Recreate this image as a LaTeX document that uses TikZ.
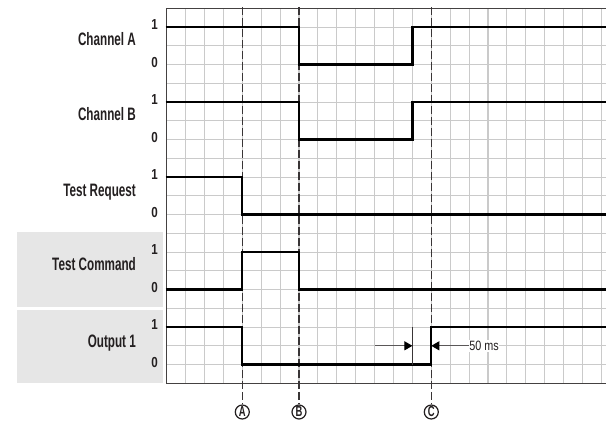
\documentclass[tikz,border=0pt]{standalone}
\usepackage{fontspec}
\setmainfont{Liberation Sans}
\newfontfamily\lblfont{Liberation Sans Bold}[FakeStretch=0.65]
\newfontfamily\digfont{Liberation Sans Bold}[FakeStretch=0.8]
\newfontfamily\msfont{Liberation Sans}[FakeStretch=0.8]
\usetikzlibrary{arrows.meta}
\definecolor{ink}{RGB}{35,31,32}
\definecolor{gridc}{RGB}{202,202,202}
\definecolor{panel}{RGB}{230,230,230}
\begin{document}
\begin{tikzpicture}[x=18.9pt,y=-18.75pt,
  gridline/.style={draw=gridc,line width=1.1pt},
  frameline/.style={draw=ink!85,line width=1.3pt},
  sigline/.style={draw=black,line width=2.2pt,line join=miter},
  markline/.style={draw=ink!90,dash pattern=on 8pt off 3pt,line width=1.2pt},
  signame/.style={anchor=base east,inner sep=0pt,text=ink,font=\lblfont\fontsize{18}{20}\selectfont},
  lvl/.style={inner sep=0pt,text=ink,font=\digfont\fontsize{14.5}{16}\selectfont},
  evmark/.style={circle,draw=ink,line width=1.2pt,minimum size=14pt,inner sep=0pt,text=ink,font=\lblfont\fontsize{14.5}{16}\selectfont},
  paneltile/.style={fill=panel,draw=none},
  dimarrow/.style={draw=ink!75,line width=1pt,-{Triangle[length=8pt,width=9pt,color=black]}},
  dimtick/.style={draw=ink!90,line width=1.2pt},
]
\def\E{23.243}
\useasboundingbox (-8.820,-0.443) rectangle (23.243,21.957);
% grey panels
\fill[paneltile] (-7.937,11.95) rectangle (-0.19,15.93);
\fill[paneltile] (-7.937,16.07) rectangle (-0.19,20);
% grid
\foreach \c in {1,...,23} \draw[gridline] (\c,0) -- (\c,20);
\foreach \r in {1,...,19} \draw[gridline] (0,\r) -- (\E,\r);
\draw[frameline] (\E,0) -- (0,0) -- (0,20) -- (\E,20);
% event markers
\node[evmark] (A) at (4,21.53) {A};
\node[evmark] (B) at (7,21.53) {B};
\node[evmark] (C) at (14,21.53) {C};
\coordinate (At) at (4,-0.08);
\coordinate (Bt) at (7,-0.08);
\coordinate (Ct) at (14,-0.08);
\draw[markline] (At) -- (A.north);
\draw[markline] (Bt) -- (B.north);
\draw[markline] (Ct) -- (C.north);
% signals
\draw[sigline] (-0.06,1) -- (7,1) -- (7,3) -- (13,3) -- (13,1) -- (\E,1);
\draw[sigline] (-0.06,5) -- (7,5) -- (7,7) -- (13,7) -- (13,5) -- (\E,5);
\draw[sigline] (-0.06,9) -- (4,9) -- (4,11) -- (\E,11);
\draw[sigline] (-0.06,15) -- (4,15) -- (4,13) -- (7,13) -- (7,15) -- (\E,15);
\draw[sigline] (-0.06,17) -- (4,17) -- (4,19) -- (14,19) -- (14,17) -- (\E,17);
% names
\node[signame] (nA) at (-1.62,2) {Channel A};
\node[signame] (nB) at (-1.62,6) {Channel B};
\node[signame] (nR) at (-1.62,10.05) {Test Request};
\node[signame] (nC) at (-1.62,14) {Test Command};
\node[signame] (nO) at (-1.62,18.1) {Output 1};
% levels
\foreach \hi/\lo/\k in {1/3/a,5/7/b,9/11/r,13/15/c,17/19/o}{
  \node[lvl] (h\k) at (-0.645,\hi-0.12) {1};
  \node[lvl] (l\k) at (-0.645,\lo-0.12) {0};
}
% 50 ms
\coordinate (k1) at (13,17);
\coordinate (k2) at (13,19);
\draw[dimtick] (k1) -- (k2);
\coordinate (t1) at (11,18);
\coordinate (t2) at (13,18);
\coordinate (t3) at (14,18);
\node[anchor=west,fill=white,inner xsep=0.5pt,inner ysep=1.5pt,text=ink,font=\msfont\fontsize{13.5}{15}\selectfont] (ms) at (15.98,18) {50 ms};
\draw[dimarrow] (t1) -- (t2);
\draw[dimarrow] (ms.west) -- (t3);
\end{tikzpicture}
\end{document}
